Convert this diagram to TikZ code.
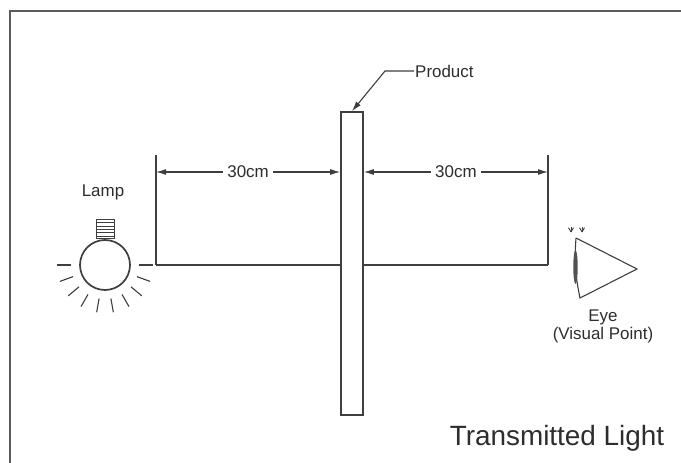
\documentclass[tikz,border=0pt]{standalone}
\usepackage{fontspec}
\setmainfont{Liberation Sans}
\usetikzlibrary{arrows.meta, backgrounds, positioning, calc}
\definecolor{lineGray}{RGB}{62,62,62}
\definecolor{textGray}{RGB}{45,45,45}
\tikzstyle{frameLine} = [draw=lineGray!85, line width=2.6bp]
\tikzstyle{thinLine} = [draw=lineGray, line width=1.1bp]
\tikzstyle{barBox} = [draw=lineGray, line width=1.6bp, fill=white, minimum width=22bp, minimum height=303bp, inner sep=0pt]
\tikzstyle{bulb} = [draw=lineGray, circle, line width=1.7bp, minimum size=50bp, inner sep=0pt]
\tikzstyle{screwBase} = [draw=lineGray, line width=1bp, minimum width=18bp, minimum height=19bp, inner sep=0pt]
\tikzstyle{smallText} = [text=textGray, font=\fontsize{17}{19}\selectfont, inner sep=1bp]
\tikzstyle{bigText} = [text=textGray, font=\fontsize{28}{31}\selectfont]

\begin{document}
\begin{tikzpicture}[x=1bp, y=-1bp, >={Latex[length=10bp,width=6bp]}]
        \useasboundingbox (0,0) rectangle (681,463);
        % Frame
        \draw [frameLine] (700,11) -- (10,11) -- (10,480);

        % Nodes
        \node [bulb] (lamp) at (105,265) {};
        \node [screwBase, above=0bp of lamp] (base) {};
        \node [smallText] (lampLabel) at (103,192) {Lamp};
        \node [barBox] (product) at (352,263.5) {};
        \node [smallText, anchor=west] (prodLabel) at (414,71) {Product};
        \node [smallText] (eyeLabel) at (603,317) {Eye};
        \node [smallText, below=0bp of eyeLabel] (eyePoint) {(Visual Point)};
        \node [bigText] (title) at (557,438) {Transmitted Light};

        % Coordinates
        \coordinate (beamL) at (156,265);
        \coordinate (beamR) at (548,265);
        \coordinate (dimL) at (156,172);
        \coordinate (dimR) at (548,172);
        \coordinate (prodKnee) at (385,71);
        \coordinate (eyeTop) at (576,238);
        \coordinate (eyeTip) at (637,269);
        \coordinate (eyeBot) at (580,298);

        % Lamp
        \foreach \i in {1,...,5}
            \draw [lineGray, line width=0.6bp] ($(base.north west)!\i/6!(base.south west)$) -- ($(base.north east)!\i/6!(base.south east)$);
        \foreach \a in {0,20,...,180}
            \draw [thinLine] (lamp.center) ++(\a:34) -- ++(\a:14);

        % Lines
        \begin{scope}[on background layer]
            \draw [thinLine] (beamL) -- (beamR);
        \end{scope}
        \draw [thinLine] (beamL) -- ($(dimL)+(0,-17)$);
        \draw [thinLine] (beamR) -- ($(dimR)+(0,-17)$);
        \draw [thinLine, <->] (dimL) -- node[fill=white, smallText, inner sep=4bp]{30cm} (dimL -| product.west);
        \draw [thinLine, <->] (dimL -| product.east) -- node[fill=white, smallText, inner sep=4bp]{30cm} (dimR);
        \draw [thinLine, ->] (prodLabel.west) -- (prodKnee) -- (product.north);

        % Eye
        \draw [thinLine, line join=miter] (eyeTop) -- (eyeTip) -- (eyeBot) to[bend left=8] (eyeTop);
        \fill [lineGray!90] (575.5,267) ellipse [x radius=2.2bp, y radius=17bp];
        \foreach \x in {571,582}
            \foreach \a in {-60,-90,-120}
                \draw [lineGray, line width=0.9bp] (\x,232) -- ++(\a:5);
    \end{tikzpicture}
\end{document}
